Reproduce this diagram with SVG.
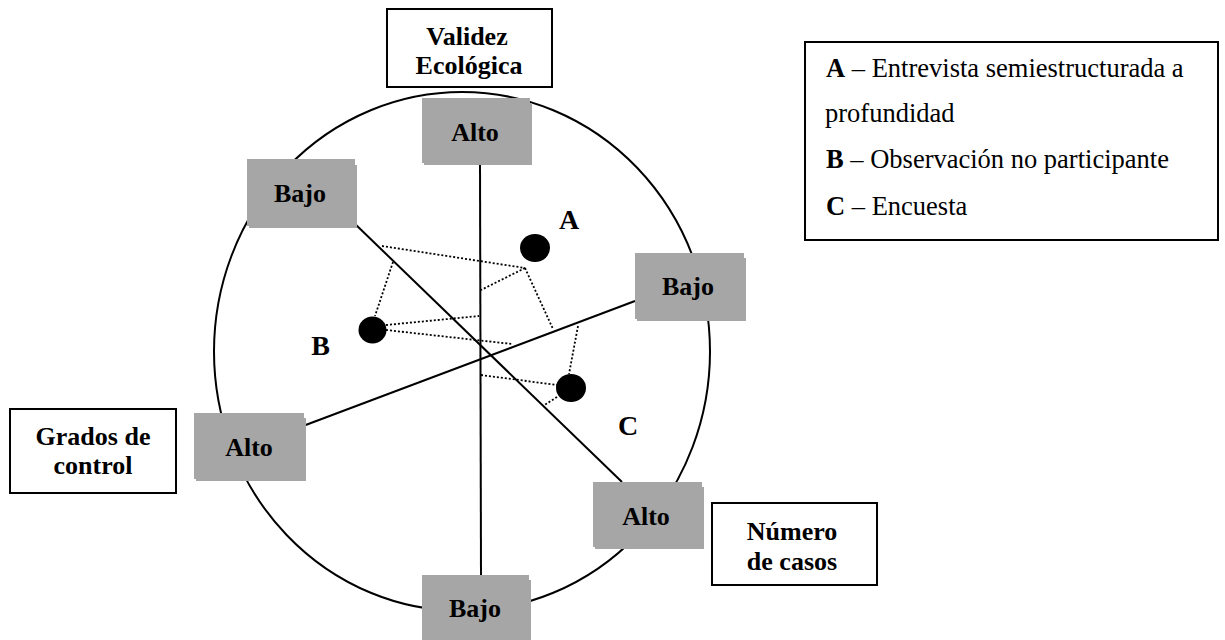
<svg xmlns="http://www.w3.org/2000/svg" width="1225" height="640" viewBox="0 0 1225 640">
<defs>
<style>
.g{fill:#a6a6a6;stroke:none}
.w{fill:#fff;stroke:#000;stroke-width:2}
.lb{font-family:"Liberation Serif","Times New Roman",serif;font-weight:bold;font-size:26px;fill:#000;text-anchor:middle}
.pt{font-family:"Liberation Serif","Times New Roman",serif;font-weight:bold;font-size:28px;fill:#000;text-anchor:middle}
.lg{font-family:"Liberation Serif","Times New Roman",serif;font-size:26.5px;fill:#000}
.ax{stroke:#000;stroke-width:2;fill:none}
.dt{stroke:#000;stroke-width:1.8;stroke-dasharray:2 2;fill:none}
</style>
</defs>
<rect width="1225" height="640" fill="#fff"/>
<ellipse cx="462" cy="351.5" rx="248" ry="259.5" fill="none" stroke="#000" stroke-width="2"/>

<g id="connectors">
<line class="ax" x1="480" y1="160" x2="481" y2="576"/>
<line class="ax" x1="353" y1="222" x2="622" y2="482"/>
<line class="ax" x1="303" y1="426" x2="635" y2="301"/>
<line class="dt" x1="382" y1="246" x2="525" y2="268"/>
<line class="dt" x1="525" y1="268" x2="481" y2="290"/>
<line class="dt" x1="525" y1="268" x2="553" y2="329"/>
<line class="dt" x1="393" y1="262" x2="375" y2="316"/>
<line class="dt" x1="386" y1="325" x2="479" y2="316"/>
<line class="dt" x1="386" y1="330" x2="512" y2="344"/>
<line class="dt" x1="578" y1="326" x2="569" y2="374"/>
<line class="dt" x1="481" y1="375" x2="557" y2="385"/>
<line class="dt" x1="557" y1="397" x2="543" y2="406"/>
</g>

<g id="alto-top">
<rect class="g" x="422" y="98" width="108" height="65"/>
<rect class="g" x="424" y="103" width="108" height="62"/>
<text class="lb" x="475" y="141">Alto</text>
</g>
<g id="bajo-upper-left">
<rect class="g" x="247" y="159" width="108" height="67"/>
<rect class="g" x="249" y="165" width="108" height="63"/>
<text class="lb" x="300" y="202">Bajo</text>
</g>
<g id="bajo-right">
<rect class="g" x="635" y="253" width="109" height="66"/>
<rect class="g" x="637" y="258" width="109" height="63"/>
<text class="lb" x="688" y="295">Bajo</text>
</g>
<g id="alto-left">
<rect class="g" x="194" y="413" width="110" height="66"/>
<rect class="g" x="196" y="418" width="110" height="63"/>
<text class="lb" x="249" y="456">Alto</text>
</g>
<g id="alto-lower-right">
<rect class="g" x="593" y="482" width="109" height="65"/>
<rect class="g" x="595" y="487" width="109" height="62"/>
<text class="lb" x="646" y="525">Alto</text>
</g>
<g id="bajo-bottom">
<rect class="g" x="422" y="575" width="107" height="68"/>
<rect class="g" x="424" y="580" width="107" height="64"/>
<text class="lb" x="475" y="617">Bajo</text>
</g>

<g id="validez-ecologica">
<rect class="w" x="387" y="9" width="165" height="78"/>
<text class="lb" x="467" y="45">Validez</text>
<text class="lb" x="469" y="74">Ecológica</text>
</g>
<g id="grados-de-control">
<rect class="w" x="10" y="409" width="166" height="84"/>
<text class="lb" x="93" y="445">Grados de</text>
<text class="lb" x="93" y="474">control</text>
</g>
<g id="numero-de-casos">
<rect class="w" x="712" y="503" width="165" height="82"/>
<text class="lb" x="792" y="540">Número</text>
<text class="lb" x="792" y="570">de casos</text>
</g>

<g id="point-a">
<ellipse cx="535" cy="248" rx="15" ry="14" fill="#000"/>
<text class="pt" x="569" y="229">A</text>
</g>
<g id="point-b">
<ellipse cx="372.5" cy="330" rx="14" ry="13.5" fill="#000"/>
<text class="pt" x="320.5" y="355">B</text>
</g>
<g id="point-c">
<ellipse cx="571" cy="388" rx="15" ry="14" fill="#000"/>
<text class="pt" x="628" y="435">C</text>
</g>

<g id="legend">
<rect class="w" x="805" y="42" width="413" height="198"/>
<text class="lg" x="826" y="77"><tspan font-weight="bold">A</tspan> – Entrevista semiestructurada a</text>
<text class="lg" x="825" y="122">profundidad</text>
<text class="lg" x="826" y="168"><tspan font-weight="bold">B</tspan> – Observación no participante</text>
<text class="lg" x="826" y="215"><tspan font-weight="bold">C</tspan> – Encuesta</text>
</g>
</svg>
